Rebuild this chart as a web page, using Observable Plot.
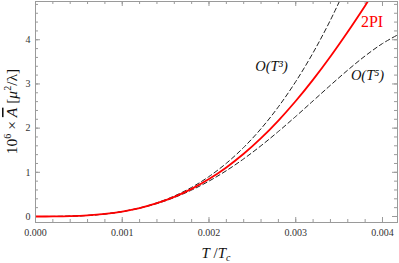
<!DOCTYPE html>
<html><head><meta charset="utf-8">
<script src="https://cdn.jsdelivr.net/npm/d3@7"></script>
<script src="https://cdn.jsdelivr.net/npm/@observablehq/plot@0.6"></script>
<style>body{margin:0;background:#fff}svg{display:block}</style>
</head><body><div id="chart"></div>
<script>
// T/Tc sample points
const tValues = [0,0.0002,0.0004,0.0006,0.0008,0.0010,0.0012,0.0014,0.0016,0.0018,0.0020,
  0.0022,0.0024,0.0026,0.0028,0.0030,0.0032,0.0034,0.0036,0.0038,0.0040,0.0042];
// O(T^3) approximation
const seriesO3 = [0,0.0009,0.0072,0.0244,0.0579,0.1131,0.1954,0.3103,0.4633,0.6596,0.9048,
  1.2043,1.5635,1.9878,2.4828,3.0537,3.7061,4.4453,5.2768];
// 2PI result
const series2PI = [0,0.0009,0.0072,0.0243,0.0573,0.1113,0.1909,0.3006,0.4443,0.6254,0.8469,
  1.1110,1.4194,1.7728,2.1714,2.6140,3.0989,3.6231,4.1826,4.7722,5.3854];
// O(T^5) approximation
const seriesO5 = [0,0.0009,0.0072,0.0241,0.0568,0.1099,0.1873,0.2929,0.4293,0.5983,0.8009,
  1.0370,1.3050,1.6021,1.9241,2.2649,2.6169,2.9705,3.3141,3.6340,3.9145,4.1372];

const xTickLabels = [0,0.001,0.002,0.003,0.004];
const yTickLabels = [0,1,2,3,4];
const xMinor = d3.range(0, 21).map(i => i*0.0002);
const yMinor = d3.range(0, 25).map(i => i*0.2);

const rows = (vals) => vals.map((v,i) => ({t: tValues[i], v}));

const W = 399, H = 263, mL = 35, mR = 2, mT = 1, mB = 41;
const pw = W - mL - mR, ph = H - mT - mB;
const frameCol = "#9a9a9a";
const serif = "Liberation Serif, Times New Roman, serif";

const tick = () => ({stroke: frameCol, strokeWidth: 1});

const plot = Plot.plot({
  width: W, height: H,
  marginLeft: mL, marginRight: mR, marginTop: mT, marginBottom: mB,
  style: {fontFamily: serif, background: "#fff"},
  x: {domain: [0, 0.004173]},
  y: {domain: [-0.136, 4.866]},
  marks: [
    // bottom & top ticks
    Plot.tickX(xTickLabels, {x: d => d, insetTop: ph - 5, ...tick()}),
    Plot.tickX(xMinor, {x: d => d, insetTop: ph - 3, ...tick()}),
    Plot.tickX(xTickLabels, {x: d => d, insetBottom: ph - 5, ...tick()}),
    Plot.tickX(xMinor, {x: d => d, insetBottom: ph - 3, ...tick()}),
    // left & right ticks
    Plot.tickY(yTickLabels, {y: d => d, insetRight: pw - 5, ...tick()}),
    Plot.tickY(yMinor, {y: d => d, insetRight: pw - 3, ...tick()}),
    Plot.tickY(yTickLabels, {y: d => d, insetLeft: pw - 5, ...tick()}),
    Plot.tickY(yMinor, {y: d => d, insetLeft: pw - 3, ...tick()}),
    Plot.axisX({ticks: xTickLabels, tickSize: 0, tickPadding: 6, tickFormat: d3.format(".3f"),
      label: null, fontSize: 10, fill: "#333"}),
    Plot.axisY({ticks: yTickLabels, tickSize: 0, tickPadding: 5, tickFormat: d3.format("d"),
      label: null, fontSize: 10, fill: "#333"}),
    Plot.lineY(rows(seriesO3), {x: "t", y: "v", stroke: "#222", strokeWidth: 1,
      strokeDasharray: "4.5,3", curve: "catmull-rom", clip: true}),
    Plot.lineY(rows(seriesO5), {x: "t", y: "v", stroke: "#222", strokeWidth: 1,
      strokeDasharray: "4.5,3", curve: "catmull-rom", clip: true}),
    Plot.lineY(rows(series2PI), {x: "t", y: "v", stroke: "#ff0000", strokeWidth: 1.8,
      curve: "catmull-rom", clip: true}),
    Plot.text(["2PI"], {x: 0.00388, y: 4.40, text: d => d, fill: "#ff0000", fontSize: 16,
      fontFamily: serif}),
    Plot.text(["O(T³)"], {x: 0.00272, y: 3.40, text: d => d, fill: "#111", fontSize: 14.5,
      fontStyle: "italic", fontFamily: serif}),
    Plot.text(["O(T⁵)"], {x: 0.003827, y: 3.19, text: d => d, fill: "#111", fontSize: 14.5,
      fontStyle: "italic", fontFamily: serif}),
    Plot.frame({stroke: frameCol, strokeWidth: 1})
  ]
});

const svg = d3.select(plot);
// x-axis label
const xl = svg.append("text").attr("x", mL + pw/2).attr("y", 258)
  .attr("text-anchor", "middle").attr("font-family", serif).attr("font-size", 15).attr("fill", "#111");
xl.append("tspan").attr("font-style", "italic").text("T");
xl.append("tspan").text(" /");
xl.append("tspan").attr("font-style", "italic").text("T");
xl.append("tspan").attr("font-style", "italic").attr("font-size", 10).attr("dy", 3).text("c");

// y-axis label
const yl = svg.append("text").attr("transform", `translate(17,${mT + ph/2}) rotate(-90)`)
  .attr("text-anchor", "middle").attr("font-family", serif).attr("font-size", 15.5).attr("fill", "#111");
yl.append("tspan").text("10");
yl.append("tspan").attr("font-size", 10).attr("dy", -6).text("6");
yl.append("tspan").attr("dy", 6).text(" × ");
yl.append("tspan").attr("font-style", "italic").attr("text-decoration", "overline").text("A");
yl.append("tspan").text(" [");
yl.append("tspan").attr("font-style", "italic").text("μ");
yl.append("tspan").attr("font-size", 10).attr("dy", -6).text("2");
yl.append("tspan").attr("dy", 6).text("/λ]");

document.getElementById("chart").appendChild(plot);
</script>
</body></html>
